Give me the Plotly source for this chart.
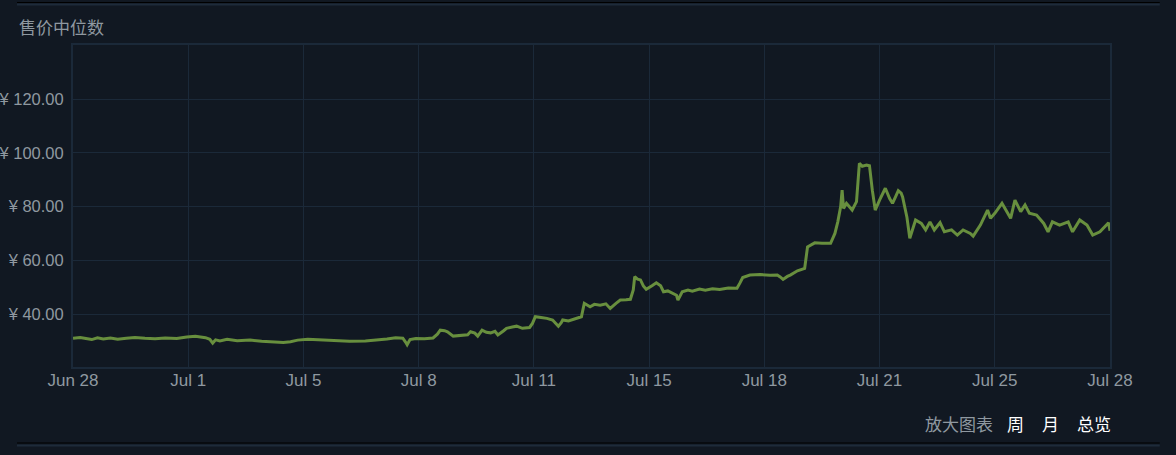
import plotly.graph_objects as go

# ---- data ----
dates = [
    "2024-06-28 00:00", "2024-06-28 05:00", "2024-06-28 09:00", "2024-06-28 13:00", "2024-06-28 17:00",
    "2024-06-28 21:00", "2024-06-29 02:00", "2024-06-29 07:00", "2024-06-29 13:00", "2024-06-29 19:00",
    "2024-06-30 02:00", "2024-06-30 09:00", "2024-06-30 16:00", "2024-07-01 00:00", "2024-07-01 07:00",
    "2024-07-01 13:00", "2024-07-01 20:00", "2024-07-01 23:00", "2024-07-02 01:00", "2024-07-02 03:00",
    "2024-07-02 06:00", "2024-07-02 11:00", "2024-07-02 18:00", "2024-07-03 03:00", "2024-07-03 11:00",
    "2024-07-03 20:00", "2024-07-04 02:00", "2024-07-04 07:00", "2024-07-04 12:00", "2024-07-04 19:00",
    "2024-07-05 04:00", "2024-07-05 15:00", "2024-07-06 00:00", "2024-07-06 11:00", "2024-07-06 18:00",
    "2024-07-07 02:00", "2024-07-07 08:00", "2024-07-07 13:00", "2024-07-07 15:00", "2024-07-07 16:00",
    "2024-07-07 18:00", "2024-07-07 22:00", "2024-07-08 04:00", "2024-07-08 10:00", "2024-07-08 13:00",
    "2024-07-08 15:00", "2024-07-08 18:00", "2024-07-08 20:00", "2024-07-09 00:00", "2024-07-09 05:00",
    "2024-07-09 10:00", "2024-07-09 12:00", "2024-07-09 15:00", "2024-07-09 17:00", "2024-07-09 20:00",
    "2024-07-09 23:00", "2024-07-10 02:00", "2024-07-10 05:00", "2024-07-10 07:00", "2024-07-10 11:00",
    "2024-07-10 13:00", "2024-07-10 17:00", "2024-07-10 20:00", "2024-07-11 00:00", "2024-07-11 05:00",
    "2024-07-11 07:00", "2024-07-11 09:00", "2024-07-11 13:00", "2024-07-11 17:00", "2024-07-11 21:00",
    "2024-07-11 23:00", "2024-07-12 01:00", "2024-07-12 03:00", "2024-07-12 04:00", "2024-07-12 08:00",
    "2024-07-12 11:00", "2024-07-12 14:00", "2024-07-12 17:00", "2024-07-12 19:00", "2024-07-12 23:00",
    "2024-07-13 02:00", "2024-07-13 06:00", "2024-07-13 10:00", "2024-07-13 13:00", "2024-07-13 17:00",
    "2024-07-13 20:00", "2024-07-14 00:00", "2024-07-14 03:00", "2024-07-14 05:00", "2024-07-14 06:00",
    "2024-07-14 08:00", "2024-07-14 10:00", "2024-07-14 12:00", "2024-07-14 14:00", "2024-07-14 18:00",
    "2024-07-14 21:00", "2024-07-15 00:00", "2024-07-15 02:00", "2024-07-15 05:00", "2024-07-15 09:00",
    "2024-07-15 11:00", "2024-07-15 12:00", "2024-07-15 14:00", "2024-07-15 15:00", "2024-07-15 19:00",
    "2024-07-15 22:00", "2024-07-16 03:00", "2024-07-16 07:00", "2024-07-16 12:00", "2024-07-16 17:00",
    "2024-07-16 23:00", "2024-07-17 05:00", "2024-07-17 07:00", "2024-07-17 09:00", "2024-07-17 14:00",
    "2024-07-17 21:00", "2024-07-18 04:00", "2024-07-18 09:00", "2024-07-18 11:00", "2024-07-18 13:00",
    "2024-07-18 16:00", "2024-07-18 18:00", "2024-07-18 23:00", "2024-07-19 03:00", "2024-07-19 04:00",
    "2024-07-19 06:00", "2024-07-19 09:00", "2024-07-19 11:00", "2024-07-19 16:00", "2024-07-19 22:00",
    "2024-07-20 01:00", "2024-07-20 03:00", "2024-07-20 05:00", "2024-07-20 06:00", "2024-07-20 07:00",
    "2024-07-20 09:00", "2024-07-20 13:00", "2024-07-20 16:00", "2024-07-20 18:00", "2024-07-20 20:00",
    "2024-07-20 23:00", "2024-07-21 01:00", "2024-07-21 03:00", "2024-07-21 05:00", "2024-07-21 08:00",
    "2024-07-21 12:00", "2024-07-21 15:00", "2024-07-21 17:00", "2024-07-21 19:00", "2024-07-21 21:00",
    "2024-07-21 23:00", "2024-07-22 00:00", "2024-07-22 03:00", "2024-07-22 05:00", "2024-07-22 09:00",
    "2024-07-22 13:00", "2024-07-22 16:00", "2024-07-22 19:00", "2024-07-22 22:00", "2024-07-23 02:00",
    "2024-07-23 05:00", "2024-07-23 10:00", "2024-07-23 14:00", "2024-07-23 18:00", "2024-07-23 23:00",
    "2024-07-24 01:00", "2024-07-24 06:00", "2024-07-24 11:00", "2024-07-24 13:00", "2024-07-24 16:00",
    "2024-07-24 21:00", "2024-07-25 00:00", "2024-07-25 03:00", "2024-07-25 06:00", "2024-07-25 10:00",
    "2024-07-25 13:00", "2024-07-25 16:00", "2024-07-25 21:00", "2024-07-26 02:00", "2024-07-26 05:00",
    "2024-07-26 08:00", "2024-07-26 13:00", "2024-07-26 19:00", "2024-07-26 22:00", "2024-07-27 03:00",
    "2024-07-27 08:00", "2024-07-27 12:00", "2024-07-27 17:00", "2024-07-27 21:00", "2024-07-27 23:00",
    "2024-07-28 00:00",
]

prices = [
    31.0, 31.3, 30.9, 30.5, 31.2,
    30.7, 31.1, 30.6, 31.0, 31.3,
    31.0, 30.8, 31.1, 30.9, 31.5,
    31.7, 31.2, 30.6, 29.2, 30.4,
    30.0, 30.6, 30.1, 30.3, 29.9,
    29.6, 29.4, 29.7, 30.3, 30.6,
    30.4, 30.1, 29.9, 30.0, 30.3,
    30.7, 31.2, 31.0, 29.5, 28.6,
    30.5, 30.9, 30.8, 31.1, 32.5,
    34.0, 33.8, 33.4, 31.8, 32.0,
    32.3, 33.4, 32.9, 31.8, 34.0,
    33.2, 33.0, 33.6, 32.2, 33.8,
    34.7, 35.2, 35.5, 34.7, 35.0,
    36.5, 39.0, 38.7, 38.4, 37.8,
    36.6, 35.5, 36.8, 37.8, 37.4,
    38.0, 38.3, 39.0, 44.0, 42.7,
    43.6, 43.3, 43.8, 42.1, 44.0,
    45.2, 45.3, 45.5, 49.0, 53.9,
    53.0, 52.7, 50.5, 49.2, 50.5,
    51.6, 50.5, 48.3, 48.6, 47.4,
    47.0, 45.2, 47.5, 48.3, 48.9,
    48.5, 49.3, 48.9, 49.4, 49.1,
    49.7, 49.6, 51.5, 53.6, 54.5,
    54.7, 54.4, 54.5, 53.8, 52.9,
    54.0, 54.5, 56.1, 56.6, 57.0,
    65.0, 66.0, 66.5, 66.3, 66.3,
    70.0, 74.3, 80.0, 86.1, 79.3,
    81.2, 78.7, 81.8, 96.1, 95.0,
    95.4, 95.2, 86.0, 78.7, 82.4,
    86.8, 83.0, 81.2, 83.5, 85.9,
    85.0, 83.6, 76.0, 68.2, 75.0,
    73.7, 71.3, 74.3, 71.3, 74.0,
    70.6, 71.3, 69.4, 71.3, 70.0,
    69.0, 73.1, 78.7, 75.6, 77.5,
    81.2, 78.1, 75.6, 82.4, 78.1,
    80.6, 77.5, 76.8, 73.7, 70.6,
    74.3, 73.1, 74.3, 70.6, 75.0,
    73.1, 69.4, 70.6, 73.1, 74.0,
    71.0,
]

tick_dates = [
    "2024-06-28 00:00", "2024-07-01 08:00", "2024-07-04 16:00", "2024-07-08 00:00",
    "2024-07-11 08:00", "2024-07-14 16:00", "2024-07-18 00:00", "2024-07-21 08:00",
    "2024-07-24 16:00", "2024-07-28 00:00",
]
tick_labels = ["Jun 28", "Jul 1", "Jul 5", "Jul 8", "Jul 11", "Jul 15", "Jul 18", "Jul 21", "Jul 25", "Jul 28"]

y_ticks = [40, 60, 80, 100, 120]
y_labels = ["¥ 40.00", "¥ 60.00", "¥ 80.00", "¥ 100.00", "¥ 120.00"]

title_text = "售价中位数"
zoom_label = "放大图表"
range_buttons = ["周", "月", "总览"]

# ---- styles ----
BG = "#111822"
GRID = "#1b2939"
LINE = "#688F3E"
TXT = "#8F98A0"
LATIN = "Liberation Sans, Arial, Noto Sans CJK SC, sans-serif"
CJK = "Noto Sans CJK SC, Liberation Sans, sans-serif"

fig = go.Figure()
fig.add_trace(go.Scatter(
    x=dates, y=prices, mode="lines",
    line=dict(color=LINE, width=3),
    hoverinfo="skip", showlegend=False,
))

fig.update_layout(
    width=1176, height=455,
    margin=dict(l=73, r=66, t=45, b=88, autoexpand=False),
    paper_bgcolor=BG, plot_bgcolor=BG,
    showlegend=False,
    xaxis=dict(
        range=[tick_dates[0], tick_dates[-1]],
        tickvals=tick_dates, ticktext=tick_labels,
        showgrid=True, gridcolor=GRID, gridwidth=1,
        showline=True, linecolor=GRID, linewidth=2, mirror=True,
        zeroline=False, ticks="", automargin=False,
        tickfont=dict(family=LATIN, size=17, color=TXT),
        ticklabelstandoff=-3,
    ),
    yaxis=dict(
        range=[20.3, 140.1],
        tickvals=y_ticks, ticktext=y_labels,
        showgrid=True, gridcolor=GRID, gridwidth=1,
        showline=True, linecolor=GRID, linewidth=2, mirror=True,
        zeroline=False, ticks="", automargin=False,
        tickfont=dict(family=LATIN, size=16.5, color=TXT),
        ticklabelstandoff=4,
    ),
)

# title
fig.add_annotation(
    text=title_text, xref="paper", yref="paper", x=-0.054, y=1.056,
    xanchor="left", yanchor="middle", showarrow=False,
    font=dict(family=CJK, size=17, color=TXT),
)

# bottom-right controls
fig.add_annotation(
    text=zoom_label, xref="paper", yref="paper", x=0.8197, y=-0.174,
    xanchor="left", yanchor="middle", showarrow=False,
    font=dict(family=CJK, size=17, color=TXT),
)
btn_x = [0.8987, 0.9325, 0.9662]
for lbl, bx in zip(range_buttons, btn_x):
    fig.add_annotation(
        text=lbl, xref="paper", yref="paper", x=bx, y=-0.174,
        xanchor="left", yanchor="middle", showarrow=False,
        font=dict(family=CJK, size=17, color="#FFFFFF"),
    )

# separator rules top and bottom
for y_black, y_blue in [(1.132, 1.1258), (-0.236, -0.2435)]:
    fig.add_shape(type="line", xref="paper", yref="paper",
                  x0=-0.054, x1=1.048, y0=y_black, y1=y_black,
                  line=dict(color="#000000", width=1))
    fig.add_shape(type="line", xref="paper", yref="paper",
                  x0=-0.054, x1=1.048, y0=y_blue, y1=y_blue,
                  line=dict(color="#1e2b3a", width=2))

fig.write_html(
    "out.html",
    config={"displayModeBar": False},
    post_script="document.body.style.margin='0';document.body.style.background='#111822';",
)
